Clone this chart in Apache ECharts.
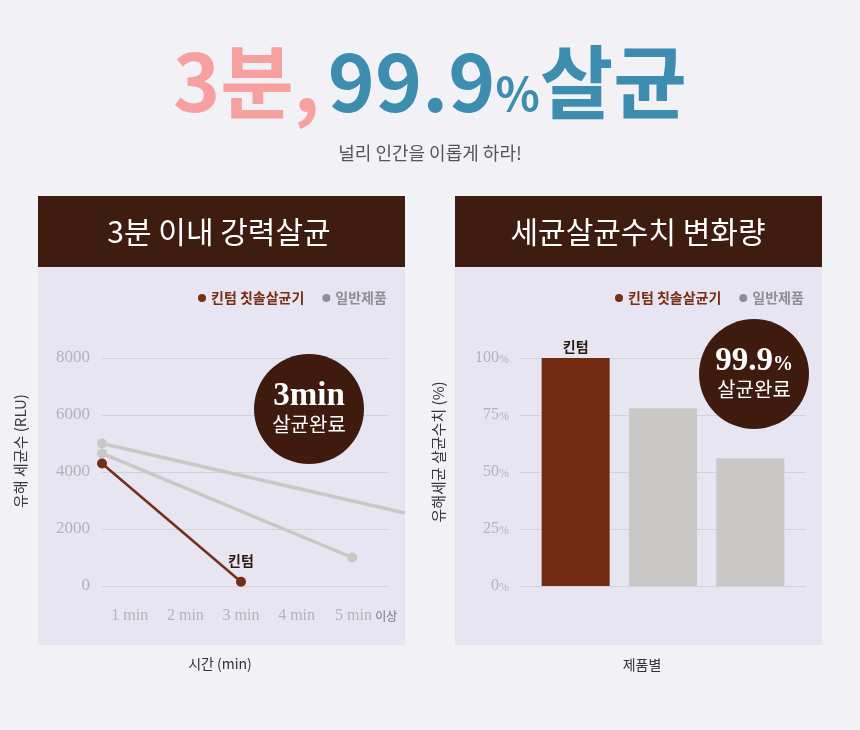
<!DOCTYPE html>
<html>
<head>
<meta charset="utf-8">
<script src="https://cdn.jsdelivr.net/npm/echarts@6/dist/echarts.min.js"></script>
<style>
  html, body { margin: 0; padding: 0; background: #f2f1f6; }
  #main { width: 860px; height: 730px; }
</style>
</head>
<body>
<div id="main"></div>
<script>
// data
var seriesNames = ['킨텀 칫솔살균기', '일반제품'];
var minuteTicks = [1, 2, 3, 4, 5];
var kintumLine = [[0.5, 4300], [3, 150]];
var generalLineA = [[0.5, 5000], [5.95, 2560]];
var generalLineB = [[0.5, 4650], [5, 1000]];
var rluTicks = [0, 2000, 4000, 6000, 8000];

var products = ['킨텀', '일반제품A', '일반제품B'];
var kintumBar = [100, '-', '-'];
var generalBar = ['-', 78, 56];
var pctTicks = [0, 25, 50, 75, 100];

var KR = '"Noto Sans CJK KR", "Noto Sans", sans-serif';
var SERIF = '"Liberation Serif", "DejaVu Serif", serif';
var BROWN = '#72301a';
var GRAY = '#cac8c5';
var DARK = '#3e1d10';

var myChart = echarts.init(document.getElementById('main'));

function legendFor(left) {
  return {
    left: left, top: 286,
    icon: 'circle', itemWidth: 8, itemHeight: 8, itemGap: 18,
    textStyle: { fontFamily: KR, fontSize: 14, fontWeight: 'bold' },
    data: [
      { name: seriesNames[0], itemStyle: { color: '#7a2e14' }, textStyle: { color: '#7a2e14' } },
      { name: seriesNames[1], itemStyle: { color: '#8f8f8f' }, textStyle: { color: '#8f8f8f' } }
    ],
    selectedMode: false
  };
}

function badge(cx, cy, top, bottom) {
  return [
    { type: 'circle', z: 100, shape: { cx: cx, cy: cy, r: 55 }, style: { fill: '#3f1b0f' } },
    { type: 'text', z: 101, x: cx, y: cy - 13, style: {
        text: top, align: 'center', verticalAlign: 'middle',
        rich: {
          big: { fontFamily: SERIF, fontWeight: 'bold', fontSize: 33, fill: '#fff' },
          sm: { fontFamily: SERIF, fontWeight: 'bold', fontSize: 20, fill: '#fff', padding: [8, 0, 0, 0] }
        }
    } },
    { type: 'text', z: 101, x: cx, y: cy + 15, style: {
        text: bottom, align: 'center', verticalAlign: 'middle',
        fontFamily: KR, fontSize: 20, fill: '#fff'
    } }
  ];
}

var graphics = [
  // panels
  { type: 'rect', z: -10, shape: { x: 38, y: 267, width: 367, height: 378 }, style: { fill: '#e7e5f1' } },
  { type: 'rect', z: -10, shape: { x: 455, y: 267, width: 367, height: 378 }, style: { fill: '#e7e5f1' } },
  { type: 'rect', z: -10, shape: { x: 38, y: 196, width: 367, height: 71 }, style: { fill: DARK } },
  { type: 'rect', z: -10, shape: { x: 455, y: 196, width: 367, height: 71 }, style: { fill: DARK } },
  { type: 'text', x: 219, y: 232, style: { text: '3분 이내 강력살균', align: 'center', verticalAlign: 'middle', fontFamily: KR, fontSize: 30, fill: '#fff' } },
  { type: 'text', x: 638, y: 232, style: { text: '세균살균수치 변화량', align: 'center', verticalAlign: 'middle', fontFamily: KR, fontSize: 30, fill: '#fff' } },
  // title
  { type: 'text', x: 430, y: 82, style: {
      text: '{a|3분,}{s|}{b|99.9}{c|%}{b|살균}', align: 'center', verticalAlign: 'middle',
      rich: {
        a: { fontFamily: KR, fontWeight: 'bold', fontSize: 80, fill: '#f7a0a0' },
        s: { width: 8 },
        b: { fontFamily: KR, fontWeight: 'bold', fontSize: 80, fill: '#3c8db0' },
        c: { fontFamily: KR, fontWeight: 'bold', fontSize: 46, fill: '#3c8db0', padding: [24, 0, 0, 0] }
      }
  } },
  { type: 'text', x: 430, y: 153, style: { text: '널리 인간을 이롭게 하라!', align: 'center', verticalAlign: 'middle', fontFamily: KR, fontSize: 18, fill: '#555' } },
  // axis names
  { type: 'text', x: 20, y: 451, rotation: Math.PI / 2, style: { text: '유해 세균수 (RLU)', align: 'center', verticalAlign: 'middle', fontFamily: KR, fontSize: 15, fill: '#3a3a3a' } },
  { type: 'text', x: 438, y: 452, rotation: Math.PI / 2, style: { text: '유해세균 살균수치 (%)', align: 'center', verticalAlign: 'middle', fontFamily: KR, fontSize: 15, fill: '#3a3a3a' } },
  { type: 'text', x: 220, y: 664, style: { text: '시간 (min)', align: 'center', verticalAlign: 'middle', fontFamily: KR, fontSize: 14, fill: '#333' } },
  { type: 'text', x: 642, y: 665, style: { text: '제품별', align: 'center', verticalAlign: 'middle', fontFamily: KR, fontSize: 14, fill: '#333' } }
].concat(badge(309, 409, '{big|3min}', '살균완료'))
 .concat(badge(754, 374, '{big|99.9}{sm|%}', '살균완료'));

var option = {
  animation: false,
  legend: [legendFor(193), legendFor(610)],
  graphic: graphics,
  grid: [
    // lines run to the panel edge, the RLU gridlines stop short of it
    { left: 102, right: 455, top: 358, bottom: 144 },
    { left: 102, right: 471, top: 358, bottom: 144 },
    { left: 519, right: 54, top: 358, bottom: 144 },
    { left: 532, right: 66, top: 358, bottom: 144 }
  ],
  xAxis: [
    {
      gridIndex: 0, type: 'value', min: 0.5, max: 5.95, interval: 0.5,
      axisLine: { show: false }, axisTick: { show: false }, splitLine: { show: false },
      axisLabel: {
        margin: 22, showMinLabel: false, showMaxLabel: false,
        formatter: function (v) {
          if (minuteTicks.indexOf(v) < 0) return '';
          if (v === minuteTicks[minuteTicks.length - 1]) return '{p|}{n|' + v + ' min} {k|이상}';
          return '{n|' + v + ' min}';
        },
        rich: {
          n: { fontFamily: SERIF, fontSize: 16, color: '#b3b3b3' },
          k: { fontFamily: KR, fontSize: 12, color: '#777' },
          p: { width: 28 }
        }
      }
    },
    { gridIndex: 1, type: 'value', min: 0, max: 1, show: false },
    { gridIndex: 2, type: 'value', min: 0, max: 1, show: false },
    { gridIndex: 3, type: 'category', data: products, show: false }
  ],
  yAxis: [
    { gridIndex: 0, type: 'value', min: rluTicks[0], max: rluTicks[rluTicks.length - 1], show: false },
    {
      gridIndex: 1, type: 'value', min: rluTicks[0], max: rluTicks[rluTicks.length - 1], interval: 2000,
      axisLine: { show: false }, axisTick: { show: false },
      splitLine: { lineStyle: { color: '#d3d1d9', width: 1 } },
      axisLabel: { margin: 12, fontFamily: SERIF, fontSize: 17, color: '#b3b3b3',
        formatter: function (v) { return String(v); } }
    },
    {
      gridIndex: 2, type: 'value', min: pctTicks[0], max: pctTicks[pctTicks.length - 1], interval: 25,
      axisLine: { show: false }, axisTick: { show: false },
      splitLine: { lineStyle: { color: '#d3d1d9', width: 1 } },
      axisLabel: {
        margin: 10,
        formatter: function (v) { return '{n|' + v + '}{p|%}'; },
        rich: {
          n: { fontFamily: SERIF, fontSize: 16, color: '#b3b3b3' },
          p: { fontFamily: SERIF, fontSize: 12, color: '#b3b3b3', padding: [3, 0, 0, 0] }
        }
      }
    },
    { gridIndex: 3, type: 'value', min: 0, max: 100, show: false }
  ],
  series: [
    {
      name: seriesNames[1], type: 'line', xAxisIndex: 0, yAxisIndex: 0, clip: false,
      symbol: 'circle', symbolSize: 10, color: GRAY,
      lineStyle: { color: GRAY, width: 3.5 }, itemStyle: { color: GRAY },
      data: generalLineA.map(function (p, i) {
        return i === generalLineA.length - 1 ? { value: p, symbol: 'none' } : p;
      })
    },
    {
      name: seriesNames[1], type: 'line', xAxisIndex: 0, yAxisIndex: 0, clip: false,
      symbol: 'circle', symbolSize: 10, color: GRAY,
      lineStyle: { color: GRAY, width: 3.5 }, itemStyle: { color: GRAY },
      data: generalLineB
    },
    {
      name: seriesNames[0], type: 'line', xAxisIndex: 0, yAxisIndex: 0, clip: false,
      symbol: 'circle', symbolSize: 10, color: BROWN,
      lineStyle: { color: BROWN, width: 2.5 }, itemStyle: { color: BROWN },
      data: kintumLine.map(function (p, i) {
        return i === kintumLine.length - 1
          ? { value: p, label: { show: true, position: 'top', distance: 9, formatter: '킨텀',
              fontFamily: KR, fontSize: 14, fontWeight: 'bold', color: '#2b1a14' } }
          : p;
      })
    },
    {
      name: seriesNames[0], type: 'bar', xAxisIndex: 3, yAxisIndex: 3, stack: 'p',
      barWidth: 68, color: '#722b10', itemStyle: { color: '#722b10' },
      label: { show: true, position: 'top', distance: 4, formatter: '킨텀',
        fontFamily: KR, fontSize: 14, fontWeight: 'bold', color: '#2b1a14' },
      data: kintumBar
    },
    {
      name: seriesNames[1], type: 'bar', xAxisIndex: 3, yAxisIndex: 3, stack: 'p',
      barWidth: 68, color: '#c9c8c6', itemStyle: { color: '#c9c8c6' },
      data: generalBar
    }
  ]
};

myChart.setOption(option);
</script>
</body>
</html>
